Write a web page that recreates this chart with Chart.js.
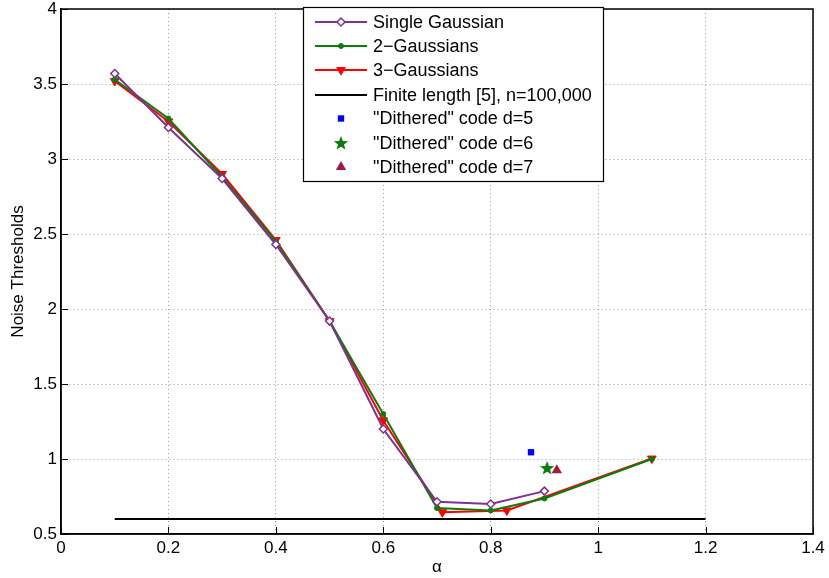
<!DOCTYPE html>
<html>
<head>
<meta charset="utf-8">
<title>Noise Thresholds</title>
<script src="https://cdn.jsdelivr.net/npm/chart.js@4.4.0/dist/chart.umd.min.js"></script>
<style>
  html, body { margin: 0; padding: 0; background: #fff; }
  #wrap { width: 829px; height: 578px; }
</style>
</head>
<body>
<div id="wrap"><canvas id="chart" width="829" height="578"></canvas></div>
<script>
// -------------------------
// Data
// -------------------------
const alphaSingle = [0.1, 0.2, 0.3, 0.4, 0.5, 0.6, 0.7, 0.8, 0.9];
const singleGaussian = [3.57, 3.21, 2.87, 2.43, 1.92, 1.20, 0.715, 0.70, 0.786];

const alphaTwo = [0.1, 0.2, 0.3, 0.4, 0.5, 0.6, 0.7, 0.8, 0.9, 1.1];
const twoGaussians = [3.53, 3.27, 2.88, 2.45, 1.92, 1.30, 0.673, 0.657, 0.737, 1.0];

const alphaThree = [0.1, 0.2, 0.3, 0.4, 0.5, 0.6, 0.71, 0.83, 1.1];
const threeGaussians = [3.52, 3.25, 2.90, 2.46, 1.92, 1.257, 0.645, 0.657, 1.003];

const finiteAlpha = [0.1, 1.2];
const finiteLength = [0.6, 0.6];

const ditheredAlpha = [0.875, 0.905, 0.923];
const ditheredValue = [1.045, 0.94, 0.925];
const ditheredLabels = ['"Dithered" code d=5', '"Dithered" code d=6', '"Dithered" code d=7'];

const xTicks = [0, 0.2, 0.4, 0.6, 0.8, 1, 1.2, 1.4];
const yTicks = [0.5, 1, 1.5, 2, 2.5, 3, 3.5, 4];

const FONT = "'Liberation Sans', Arial, Helvetica, sans-serif";

function toPoints(xs, ys) {
    return xs.map((x, i) => ({ x: x, y: ys[i] }));
}

// filled five point star for the d=6 marker
function makeStar(color, size) {
    const c = document.createElement("canvas");
    c.width = size; c.height = size;
    const g = c.getContext("2d");
    const cx = size / 2, cy = size / 2 + 0.5, ro = size / 2 - 0.5, ri = ro * 0.42;
    g.beginPath();
    for (let i = 0; i < 10; i++) {
        const r = i % 2 ? ri : ro;
        const a = -Math.PI / 2 + i * Math.PI / 5;
        g.lineTo(cx + r * Math.cos(a), cy + r * Math.sin(a));
    }
    g.closePath();
    g.fillStyle = color;
    g.fill();
    return c;
}
const starImg = makeStar("#0a7d0a", 16);

const datasets = [
    {
        label: "Single Gaussian",
        data: toPoints(alphaSingle, singleGaussian),
        borderColor: "#7b3294", backgroundColor: "#ffffff",
        borderWidth: 2, showLine: true,
        pointStyle: "rectRot", pointRadius: 4, pointBorderWidth: 1.5,
        pointBorderColor: "#7b3294", pointBackgroundColor: "#ffffff"
    },
    {
        label: "2\u2212Gaussians",
        data: toPoints(alphaTwo, twoGaussians),
        borderColor: "#0a7d0a", backgroundColor: "#0a7d0a",
        borderWidth: 2, showLine: true,
        pointStyle: "circle", pointRadius: 2.5, pointBorderWidth: 1,
        pointBorderColor: "#0a7d0a", pointBackgroundColor: "#0a7d0a"
    },
    {
        label: "3\u2212Gaussians",
        data: toPoints(alphaThree, threeGaussians),
        borderColor: "#ff0000", backgroundColor: "#ff0000",
        borderWidth: 2, showLine: true,
        pointStyle: "triangle", pointRotation: 180, pointRadius: 5, pointBorderWidth: 1,
        pointBorderColor: "#ff0000", pointBackgroundColor: "#ff0000"
    },
    {
        label: "Finite length [5], n=100,000",
        data: toPoints(finiteAlpha, finiteLength),
        borderColor: "#000000", backgroundColor: "#000000",
        borderWidth: 2, showLine: true, pointRadius: 0
    },
    {
        label: ditheredLabels[0],
        data: [{ x: ditheredAlpha[0], y: ditheredValue[0] }],
        showLine: false,
        pointStyle: "rect", pointRadius: 4.5, pointBorderWidth: 0,
        pointBackgroundColor: "#0000ff", backgroundColor: "#0000ff", borderColor: "#0000ff"
    },
    {
        label: ditheredLabels[1],
        data: [{ x: ditheredAlpha[1], y: ditheredValue[1] }],
        showLine: false,
        pointStyle: starImg, pointRadius: 8,
        backgroundColor: "#0a7d0a", borderColor: "#0a7d0a"
    },
    {
        label: ditheredLabels[2],
        data: [{ x: ditheredAlpha[2], y: ditheredValue[2] }],
        showLine: false,
        pointStyle: "triangle", pointRadius: 6, pointBorderWidth: 0,
        pointBackgroundColor: "#a2193d", backgroundColor: "#a2193d", borderColor: "#a2193d"
    }
];

// -------------------------
// Box, inner ticks and legend
// -------------------------
const matlabPlugin = {
    id: "matlabFrame",
    afterDatasetsDraw(chart) {
        const { ctx, chartArea: a, scales } = chart;
        ctx.save();
        ctx.strokeStyle = "#000";
        ctx.lineWidth = 1;
        ctx.beginPath();
        xTicks.forEach(v => {
            const px = Math.round(scales.x.getPixelForValue(v)) + 0.5;
            ctx.moveTo(px, a.bottom); ctx.lineTo(px, a.bottom - 7);
        });
        yTicks.forEach(v => {
            const py = Math.round(scales.y.getPixelForValue(v)) + 0.5;
            ctx.moveTo(a.left, py); ctx.lineTo(a.left + 7, py);
        });
        ctx.stroke();
        ctx.lineWidth = 1.5;
        ctx.strokeRect(a.left, a.top, a.right - a.left, a.bottom - a.top);
        ctx.restore();
    },
    afterDraw(chart) {
        const ctx = chart.ctx;
        const box = { x: 303.5, y: 7.5, w: 300, h: 174 };
        const rowY = [22, 46, 70, 95, 118.5, 143, 167];
        ctx.save();
        ctx.fillStyle = "#fff";
        ctx.fillRect(box.x, box.y, box.w, box.h);
        ctx.strokeStyle = "#000";
        ctx.lineWidth = 1.2;
        ctx.strokeRect(box.x, box.y, box.w, box.h);

        chart.data.datasets.forEach((ds, i) => {
            const y = rowY[i];
            if (ds.showLine) {
                ctx.strokeStyle = ds.borderColor;
                ctx.lineWidth = ds.borderWidth;
                ctx.beginPath();
                ctx.moveTo(315, y); ctx.lineTo(367, y);
                ctx.stroke();
            }
            if (ds.pointRadius > 0) {
                ctx.fillStyle = ds.pointBackgroundColor || ds.backgroundColor;
                ctx.strokeStyle = ds.pointBorderColor || ds.borderColor;
                ctx.lineWidth = ds.pointBorderWidth || 0;
                Chart.helpers.drawPoint(ctx, {
                    pointStyle: ds.pointStyle,
                    rotation: ds.pointRotation || 0,
                    radius: ds.pointRadius,
                    borderWidth: ds.pointBorderWidth || 0
                }, 341, y);
            }
            ctx.fillStyle = "#000";
            ctx.font = "18px " + FONT;
            ctx.textBaseline = "middle";
            ctx.textAlign = "left";
            ctx.fillText(ds.label, 373, y + 1);
        });
        ctx.restore();
    }
};

// -------------------------
// Chart
// -------------------------
function fmt(v) {
    return String(+Number(v).toFixed(2));
}

const ctx = document.getElementById("chart").getContext("2d");
new Chart(ctx, {
    type: "scatter",
    data: { datasets: datasets },
    options: {
        responsive: false,
        animation: false,
        events: [],
        layout: { padding: { top: 7, right: 16, left: 0, bottom: 0 } },
        plugins: {
            legend: { display: false },
            tooltip: { enabled: false }
        },
        elements: { line: { tension: 0 } },
        scales: {
            x: {
                type: "linear",
                min: 0, max: 1.4,
                afterBuildTicks: s => { s.ticks = xTicks.map(v => ({ value: v })); },
                ticks: {
                    color: "#000", padding: 4, maxRotation: 0,
                    font: { family: FONT, size: 17 },
                    callback: v => fmt(v)
                },
                grid: { color: "#9a9a9a", lineWidth: 1, drawTicks: false },
                border: { display: true, color: "#000", width: 1.5, dash: [1, 3] },
                title: {
                    display: true, text: "\u03b1", color: "#000",
                    font: { family: FONT, size: 17 },
                    padding: { top: 0, bottom: 0 }
                },
                afterFit: s => { s.height = 44; s.paddingLeft = 0; s.paddingRight = 0; }
            },
            y: {
                type: "linear",
                min: 0.5, max: 4,
                afterBuildTicks: s => { s.ticks = yTicks.map(v => ({ value: v })); },
                ticks: {
                    color: "#000", padding: 4,
                    font: { family: FONT, size: 17 },
                    callback: v => fmt(v)
                },
                grid: { color: "#9a9a9a", lineWidth: 1, drawTicks: false },
                border: { display: true, color: "#000", width: 1.5, dash: [1, 3] },
                title: {
                    display: true, text: "Noise Thresholds", color: "#000",
                    font: { family: FONT, size: 17 },
                    padding: { top: 8, bottom: 0 }
                },
                afterFit: s => { s.width = 61; s.paddingTop = 0; s.paddingBottom = 0; }
            }
        }
    },
    plugins: [matlabPlugin]
});
</script>
</body>
</html>
